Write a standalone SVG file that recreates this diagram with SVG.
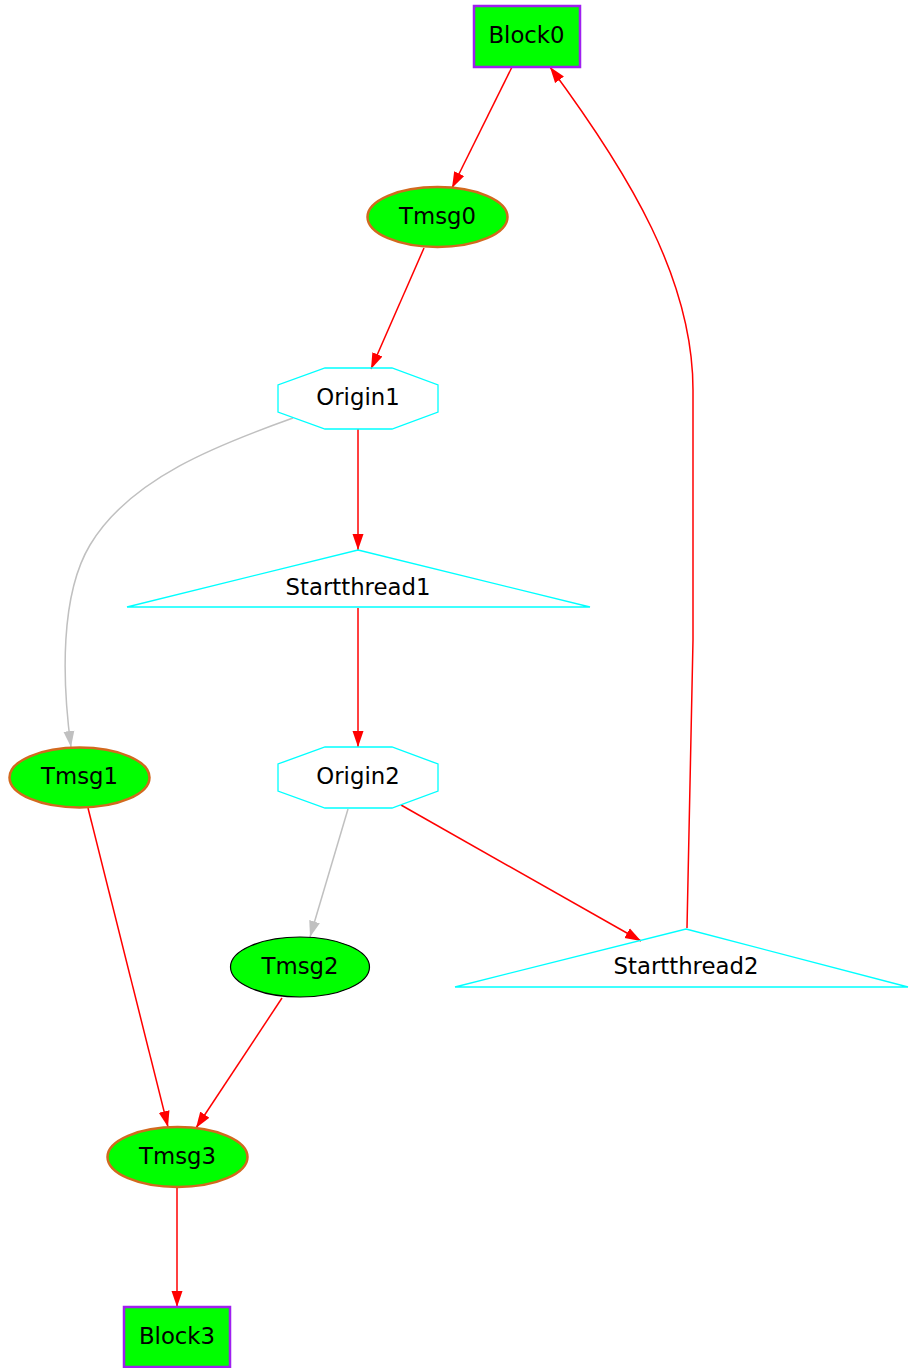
<svg xmlns="http://www.w3.org/2000/svg" width="909" height="1368" viewBox="0 0 909 1368">
  <defs>
    <marker id="ah-red" markerUnits="userSpaceOnUse" markerWidth="16" markerHeight="12" refX="16" refY="6" orient="auto">
      <path d="M0,0.5 L16,6 L0,11.5 z" fill="#ff0000"/>
    </marker>
    <marker id="ah-gray" markerUnits="userSpaceOnUse" markerWidth="16" markerHeight="12" refX="16" refY="6" orient="auto">
      <path d="M0,0.5 L16,6 L0,11.5 z" fill="#c0c0c0"/>
    </marker>
    <style>
      .lbl { font-family: "DejaVu Sans", sans-serif; font-size: 22.8px; fill: #000; text-anchor: middle; }
      .block { fill: #00ff00; stroke: #a020f0; stroke-width: 2.5; }
      .msg { fill: #00ff00; stroke: #d2691e; stroke-width: 2.5; }
      .msg-plain { fill: #00ff00; stroke: #000; stroke-width: 1.2; }
      .origin { fill: none; stroke: #00ffff; stroke-width: 1.3; }
      .edge { fill: none; stroke: #ff0000; stroke-width: 1.5; marker-end: url(#ah-red); }
      .edge-weak { fill: none; stroke: #c0c0c0; stroke-width: 1.5; marker-end: url(#ah-gray); }
    </style>
  </defs>
  <rect width="909" height="1368" fill="#ffffff"/>

  <g id="edges">
    <path class="edge" d="M512,67 L452,188"/>
    <path class="edge" d="M424,248 L371,369"/>
    <path class="edge" d="M358,429 L358,550"/>
    <path class="edge-weak" d="M293,418 C220,444 130,478 90,545 C60,595 62,680 71,747"/>
    <path class="edge" d="M358,608 L358,747"/>
    <path class="edge-weak" d="M348,809 L310,937"/>
    <path class="edge" d="M401,805 L641,941"/>
    <path class="edge" d="M687,928 L693,640 L693,390 C693,280 630,175 550,67"/>
    <path class="edge" d="M88,808 L168,1127"/>
    <path class="edge" d="M282,998 L196,1128"/>
    <path class="edge" d="M177,1188 L177,1307"/>
  </g>

  <g id="Block0">
    <rect class="block" x="474" y="6" width="106" height="61"/>
    <text class="lbl" x="526.5" y="43">Block0</text>
  </g>
  <g id="Tmsg0">
    <ellipse class="msg" cx="437.5" cy="217" rx="70" ry="30"/>
    <text class="lbl" x="437.5" y="224">Tmsg0</text>
  </g>
  <g id="Origin1">
    <polygon class="origin" points="325,368 392,368 438,385 438,412 392,429 325,429 278,412 278,385"/>
    <text class="lbl" x="358" y="405">Origin1</text>
  </g>
  <g id="Startthread1">
    <polygon class="origin" points="358,550 590,607 127,607"/>
    <text class="lbl" x="358" y="595">Startthread1</text>
  </g>
  <g id="Origin2">
    <polygon class="origin" points="325,747 392,747 438,764 438,791 392,808 325,808 278,791 278,764"/>
    <text class="lbl" x="358" y="784">Origin2</text>
  </g>
  <g id="Tmsg1">
    <ellipse class="msg" cx="79.5" cy="777.5" rx="70" ry="30"/>
    <text class="lbl" x="79.5" y="784">Tmsg1</text>
  </g>
  <g id="Startthread2">
    <polygon class="origin" points="686,929 908,987 455,987"/>
    <text class="lbl" x="686" y="974">Startthread2</text>
  </g>
  <g id="Tmsg2">
    <ellipse class="msg-plain" cx="300" cy="967" rx="69.5" ry="30"/>
    <text class="lbl" x="300" y="974">Tmsg2</text>
  </g>
  <g id="Tmsg3">
    <ellipse class="msg" cx="177.5" cy="1157" rx="70" ry="30"/>
    <text class="lbl" x="177.5" y="1164">Tmsg3</text>
  </g>
  <g id="Block3">
    <rect class="block" x="124" y="1307" width="106" height="60"/>
    <text class="lbl" x="177" y="1344">Block3</text>
  </g>
</svg>
